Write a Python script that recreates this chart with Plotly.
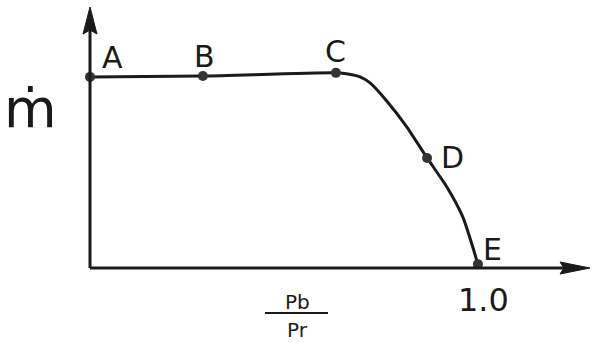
import plotly.graph_objects as go

# curve m-dot vs Pb/Pr (plateau value ~ 1.0)
curve_x = [0.0, 0.291, 0.634, 0.665, 0.696, 0.722, 0.765, 0.817, 0.869, 0.920, 0.961, 1.0]
curve_y = [0.995, 1.0, 1.016, 1.01, 0.995, 0.964, 0.87, 0.734, 0.573, 0.422, 0.266, 0.02]

# labelled points
point_names = ['A', 'B', 'C', 'D', 'E']
point_x = [0.0, 0.291, 0.634, 0.869, 1.0]
point_y = [0.995, 1.0, 1.016, 0.573, 0.02]
# label offsets in px (dx right, dy up)
label_dx = [22, 2, 0, 25, 15]
label_dy = [19, 19, 21, 0, 15]

x_range = [0, 1.289]
y_range = [0, 1.359]

INK = '#1a1a1a'
FONT = 'DejaVu Sans'

fig = go.Figure()

fig.add_trace(go.Scatter(
    x=curve_x, y=curve_y,
    mode='lines',
    line=dict(color=INK, width=3, shape='spline', smoothing=0.6),
    hoverinfo='skip',
    showlegend=False
))

fig.add_trace(go.Scatter(
    x=point_x, y=point_y,
    mode='markers',
    marker=dict(size=10, color='#333333'),
    showlegend=False,
    cliponaxis=False
))

# point labels
for name, px, py, dx, dy in zip(point_names, point_x, point_y, label_dx, label_dy):
    fig.add_annotation(
        x=px, y=py, text=name, showarrow=False,
        xshift=dx, yshift=dy,
        font=dict(family=FONT, size=30, color=INK)
    )

# axis lines
fig.add_shape(type='line', xref='paper', yref='paper', x0=0, x1=0.97, y0=0, y1=0,
              line=dict(color=INK, width=3))
fig.add_shape(type='line', xref='paper', yref='paper', x0=0, x1=0, y0=0, y1=0.95,
              line=dict(color=INK, width=3))

# arrow heads (pixel sized, anchored at the axis ends)
fig.add_shape(type='path', xref='paper', yref='paper',
              xsizemode='pixel', ysizemode='pixel', xanchor=1, yanchor=0,
              path='M0,0 L-30,6 L-26,0 L-30,-6 Z',
              fillcolor=INK, line=dict(color=INK, width=1))
fig.add_shape(type='path', xref='paper', yref='paper',
              xsizemode='pixel', ysizemode='pixel', xanchor=0, yanchor=1,
              path='M0,0 L-7,-27 L0,-23 L7,-27 Z',
              fillcolor=INK, line=dict(color=INK, width=1))

# axis texts
fig.add_annotation(
    xref='paper', yref='paper', x=-0.12, y=0.612, text='ṁ', showarrow=False,
    xanchor='center', yanchor='middle',
    font=dict(family=FONT, size=54, color=INK)
)
fig.add_annotation(
    xref='x', yref='paper', x=1.015, y=-0.123, text='1.0', showarrow=False,
    xanchor='center', yanchor='middle',
    font=dict(family=FONT, size=32, color=INK)
)
fig.add_annotation(
    xref='paper', yref='paper', x=0.414, y=-0.130, text='Pb', showarrow=False,
    xanchor='center', yanchor='middle',
    font=dict(family=FONT, size=20, color=INK)
)
fig.add_annotation(
    xref='paper', yref='paper', x=0.414, y=-0.2375, text='Pr', showarrow=False,
    xanchor='center', yanchor='middle',
    font=dict(family=FONT, size=20, color=INK)
)
fig.add_shape(
    type='line', xref='paper', yref='paper',
    x0=0.35, x1=0.476, y0=-0.172, y1=-0.172,
    line=dict(color=INK, width=2)
)

fig.update_xaxes(range=x_range, visible=False)
fig.update_yaxes(range=y_range, visible=False)

fig.update_layout(
    width=592, height=343,
    margin=dict(l=90, r=2, t=7, b=75),
    paper_bgcolor='white',
    plot_bgcolor='white',
)

fig.write_html("out.html", config={'displayModeBar': False},
               post_script="document.body.style.margin='0';")
